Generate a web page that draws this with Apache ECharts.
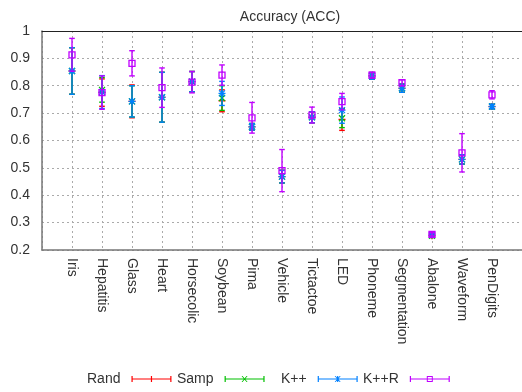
<!DOCTYPE html>
<html>
<head>
<meta charset="utf-8">
<script src="https://cdn.jsdelivr.net/npm/echarts@6/dist/echarts.min.js"></script>
<style>html,body{margin:0;padding:0;background:#fff}#c{width:522px;height:392px}</style>
</head>
<body>
<div id="c"></div>
<script>
const categories = ['Iris','Hepatitis','Glass','Heart','Horsecolic','Soybean','Pima','Vehicle','Tictactoe','LED','Phoneme','Segmentation','Abalone','Waveform','PenDigits'];
const yTicks = [0.2,0.3,0.4,0.5,0.6,0.7,0.8,0.9,1];

const randMean = [0.854,0.775,0.743,0.758,0.815,0.745,0.650,0.468,0.685,0.677,0.836,0.791,0.252,0.531,0.724];
const randErr  = [0.085,0.050,0.060,0.091,0.037,0.040,0.012,0.023,0.020,0.040,0.012,0.015,0.006,0.017,0.008];
const sampMean = [0.854,0.785,0.743,0.758,0.815,0.755,0.650,0.468,0.685,0.681,0.836,0.791,0.252,0.531,0.724];
const sampErr  = [0.085,0.045,0.057,0.091,0.037,0.045,0.012,0.023,0.020,0.034,0.012,0.015,0.006,0.017,0.008];
const kppMean  = [0.854,0.777,0.743,0.758,0.815,0.772,0.650,0.468,0.685,0.711,0.836,0.791,0.255,0.531,0.724];
const kppErr   = [0.085,0.060,0.057,0.091,0.037,0.044,0.012,0.023,0.020,0.048,0.012,0.015,0.006,0.017,0.008];
const kpprMean = [0.913,0.775,0.882,0.793,0.813,0.839,0.683,0.490,0.693,0.742,0.839,0.811,0.257,0.555,0.767];
const kpprErr  = [0.060,0.061,0.046,0.072,0.039,0.037,0.056,0.077,0.029,0.030,0.010,0.011,0.006,0.070,0.015];

const seriesNames = ['Rand','Samp','K++','K++R'];
const seriesColors = ['#ff0000','#00c000','#0080ff','#c000ff'];
const seriesMarkers = ['plus','cross','star','square'];
const seriesMeans = [randMean, sampMean, kppMean, kpprMean];
const seriesErrs = [randErr, sampErr, kppErr, kpprErr];

const FONT = "'Liberation Sans', Arial, sans-serif";

function markerShapes(kind, cx, cy, color) {
  const st = {stroke: color, lineWidth: 1.3, fill: null};
  const out = [];
  const s = 3.5;
  if (kind === 'plus' || kind === 'star') {
    out.push({type:'line', shape:{x1:cx-s,y1:cy,x2:cx+s,y2:cy}, style:st});
    out.push({type:'line', shape:{x1:cx,y1:cy-s,x2:cx,y2:cy+s}, style:st});
  }
  if (kind === 'cross' || kind === 'star') {
    const d = 3;
    out.push({type:'line', shape:{x1:cx-d,y1:cy-d,x2:cx+d,y2:cy+d}, style:st});
    out.push({type:'line', shape:{x1:cx-d,y1:cy+d,x2:cx+d,y2:cy-d}, style:st});
  }
  if (kind === 'square') {
    out.push({type:'rect', shape:{x:cx-3,y:cy-3,width:6,height:6}, style:st});
  }
  return out;
}

function makeRender(kind, color) {
  return function (params, api) {
    const x = api.value(0), m = api.value(1), e = api.value(2);
    const p = api.coord([x, m]);
    const hi = api.coord([x, m + e]);
    const lo = api.coord([x, m - e]);
    const st = {stroke: color, lineWidth: 1.4};
    const cw = 2.8;
    const children = [
      {type:'line', shape:{x1:p[0],y1:hi[1],x2:p[0],y2:lo[1]}, style:st},
      {type:'line', shape:{x1:p[0]-cw,y1:hi[1],x2:p[0]+cw,y2:hi[1]}, style:st},
      {type:'line', shape:{x1:p[0]-cw,y1:lo[1],x2:p[0]+cw,y2:lo[1]}, style:st}
    ].concat(markerShapes(kind, p[0], p[1], color));
    return {type:'group', children};
  };
}

// Legend icons (40 x 6 box)
const baseIcon = 'M0 2.4H40V3.6H0Z M0 0H1.2V6H0Z M38.8 0H40V6H38.8Z';
const icons = {
  plus: baseIcon + ' M19.4 0H20.6V6H19.4Z',
  cross: baseIcon + ' M17 0L18 0L23 6L22 6Z M22 0L23 0L18 6L17 6Z',
  star: baseIcon + ' M19.4 0H20.6V6H19.4Z M17 0L18 0L23 6L22 6Z M22 0L23 0L18 6L17 6Z',
  square: baseIcon + ' M17 0H23V6H17Z M18 1V5H22V1Z'
};
const legendLefts = [87, 177, 281, 363];

const series = seriesNames.map((name, si) => ({
  name,
  type: 'custom',
  renderItem: makeRender(seriesMarkers[si], seriesColors[si]),
  itemStyle: {color: seriesColors[si]},
  encode: {x: 0, y: 1},
  data: categories.map((c, i) => [i, seriesMeans[si][i], seriesErrs[si][i]]),
  z: 10 + si,
  silent: true,
  animation: false
}));

const legends = seriesNames.map((name, si) => ({
  data: [{name, icon: 'path://' + icons[seriesMarkers[si]]}],
  left: legendLefts[si],
  top: 372,
  padding: 0,
  align: 'right',
  itemWidth: 40,
  itemHeight: 6,
  selectedMode: false,
  textStyle: {fontFamily: FONT, fontSize: 14, color: '#333', padding: [0, 6, 0, 0]}
}));

const chart = echarts.init(document.getElementById('c'), null, {renderer: 'canvas'});
chart.setOption({
  backgroundColor: '#fff',
  animation: false,
  title: {
    text: 'Accuracy (ACC)',
    left: 285,
    top: 5,
    textAlign: 'center',
    textStyle: {fontFamily: FONT, fontSize: 14, fontWeight: 'normal', color: '#333'}
  },
  legend: legends,
  grid: {left: 42, top: 31, width: 485.6, height: 219, containLabel: false},
  xAxis: [{
    type: 'value',
    min: -1, max: 15, interval: 1,
    axisLine: {show: true, onZero: false, lineStyle: {color: '#777', width: 1.5}},
    axisTick: {show: false},
    splitLine: {show: true, lineStyle: {color: '#aaa', type: [2, 3], width: 1}},
    axisLabel: {
      rotate: -90, margin: 8, fontFamily: FONT, fontSize: 14, color: '#333',
      formatter: v => (v >= 0 && v < categories.length) ? categories[v] : ''
    }
  }, {
    type: 'value', position: 'top',
    min: -1, max: 15,
    axisLine: {show: true, onZero: false, lineStyle: {color: '#222', width: 1}},
    axisTick: {show: false}, axisLabel: {show: false}, splitLine: {show: false}
  }],
  yAxis: {
    type: 'value', min: 0.2, max: 1, interval: 0.1,
    axisLine: {show: true, onZero: false, lineStyle: {color: '#777', width: 1.5}},
    axisTick: {show: false},
    splitLine: {show: true, lineStyle: {color: '#aaa', type: [2, 3], width: 1}},
    axisLabel: {
      margin: 12, fontFamily: FONT, fontSize: 14, color: '#333',
      formatter: v => String(Math.round(v * 10) / 10)
    }
  },
  series
});
</script>
</body>
</html>
